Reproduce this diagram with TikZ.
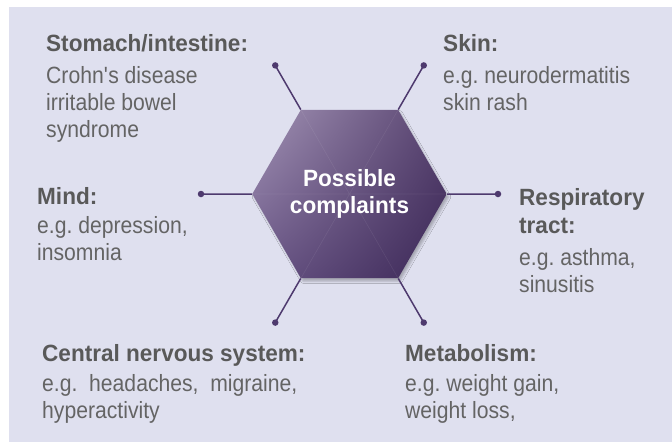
\documentclass[tikz,border=0pt]{standalone}
\usepackage{fontspec}
\setmainfont{Liberation Sans}[FakeStretch=0.96]
\newfontfamily\bodyfont{Liberation Sans}[FakeStretch=0.9]
\usetikzlibrary{shapes.geometric, shadings, shadows.blur}
\definecolor{cpback}{HTML}{DFE0EF}
\definecolor{cpline}{HTML}{4E3A6E}
\definecolor{cphead}{HTML}{595959}
\definecolor{cptext}{HTML}{646464}
\definecolor{cplight}{HTML}{A394B6}
\definecolor{cpmid}{HTML}{6A5686}
\definecolor{cpright}{HTML}{57426F}
\definecolor{cpdark}{HTML}{3B2756}
\frenchspacing

% multi-line labels sit on the baseline of their last line
\tikzset{
  heading/.style={anchor=base west, inner sep=0pt, text=cphead, align=left,
                  font=\fontsize{23.5}{28}\selectfont\bfseries},
  body/.style={anchor=base west, inner sep=0pt, text=cptext, align=left,
               font=\bodyfont\fontsize{23.5}{27}\selectfont},
  spoke/.style={draw=cpline, line width=1.5pt},
  knob/.style={circle, fill=cpline, inner sep=0pt, minimum size=6.5pt},
}

\begin{document}
\begin{tikzpicture}[x=1pt, y=-1pt]
  \useasboundingbox (0,0) rectangle (672,442);
  \fill[cpback] (9,7) rectangle (672,442);

  % centre hexagon
  \node[regular polygon, regular polygon sides=6, minimum size=185pt, inner sep=0pt,
        upper left=cplight, upper right=cpright, lower left=cpmid, lower right=cpdark,
        blur shadow={shadow xshift=2pt, shadow yshift=-3pt, shadow opacity=25},
        text=white, align=center, font=\fontsize{23.5}{27}\selectfont\bfseries]
    (hex) at (349.5,194) {Possible\\complaints};
  \draw[white, opacity=0.07, line width=0.6pt]
    (hex.0) -- (hex.180) (hex.60) -- (hex.240) (hex.120) -- (hex.300);

  % spoke ends
  \coordinate (dstom) at (275.25,65.4);
  \coordinate (dskin) at (423.75,65.4);
  \coordinate (dmind) at (201,194);
  \coordinate (dresp) at (498,194);
  \coordinate (dcns)  at (275.25,322.6);
  \coordinate (dmeta) at (423.75,322.6);
  \foreach \ang/\nm in {120/dstom, 60/dskin, 180/dmind, 0/dresp, 240/dcns, 300/dmeta} {
    \draw[spoke] (hex.\ang) -- (\nm);
    \node[knob] (k\nm) at (\nm) {};
  }

  % labels
  \node[heading] (stomach) at (46,51) {Stomach/intestine:};
  \node[body] (stomachtxt) at (46,137) {Crohn\textquotesingle s disease\\irritable bowel\\syndrome};
  \node[heading] (skin) at (443,51) {Skin:};
  \node[body] (skintxt) at (443,110) {e.g. neurodermatitis\\skin rash};
  \node[heading] (mind) at (37,204) {Mind:};
  \node[body] (mindtxt) at (37,260) {e.g. depression,\\insomnia};
  \node[heading] (resp) at (519,233) {Respiratory\\tract:};
  \node[body] (resptxt) at (519,292) {e.g. asthma,\\sinusitis};
  \node[heading] (cns) at (42,361) {Central nervous system:};
  \node[body] (cnstxt) at (42,418) {e.g.~ headaches,~ migraine,\\hyperactivity};
  \node[heading] (meta) at (405,361) {Metabolism:};
  \node[body] (metatxt) at (405,418) {e.g. weight gain,\\weight loss,};
\end{tikzpicture}
\end{document}
